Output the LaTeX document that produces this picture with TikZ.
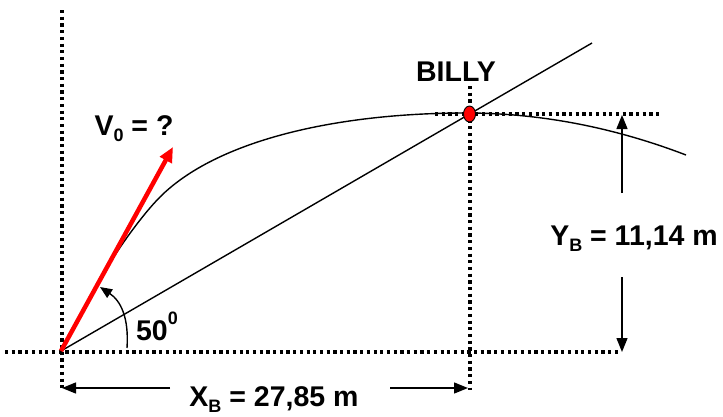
\documentclass[tikz,border=0pt]{standalone}
\usepackage{fontspec}
\setmainfont{Liberation Sans}
\usetikzlibrary{arrows.meta,shapes.geometric}
\newcommand{\lsub}[1]{\raisebox{-0.22em}{\fontsize{18}{18}\selectfont #1}}
\newcommand{\lsup}[1]{\raisebox{0.55em}{\fontsize{18}{18}\selectfont #1}}
\begin{document}
\begin{tikzpicture}[x=1pt,y=-1pt,
  dotline/.style={line width=3.2pt, dash pattern=on 3.2pt off 3.5pt},
  blk/.style={line width=1.4pt},
  dimarrow/.style={line width=1.4pt, -{Triangle[length=14pt,width=11pt]}},
  lbl/.style={font=\fontsize{28.5}{30}\selectfont\bfseries, inner sep=0pt, anchor=base}
]
\useasboundingbox (0,0) rectangle (723,416);
% key points
\coordinate (O) at (61,351);
\coordinate (B) at (469.5,114);
\coordinate (P) at (105,271.5);
\coordinate (M) at (160,197);
\coordinate (Apex) at (466,113);
\coordinate (Tend) at (686,155);
\coordinate (Ltop) at (62,10);
\coordinate (Lbot) at (62,388);
\coordinate (Hl) at (5,352);
\coordinate (Hr) at (620,352);
\coordinate (Btop) at (470,86);
\coordinate (Bbot) at (470,390);
\coordinate (Bl) at (435,114);
\coordinate (Br) at (660,114);
\coordinate (Lend) at (592,43);
\coordinate (Vtip) at (173,147);
% dotted guide lines
\draw[dotline] (Ltop) -- (Lbot);
\draw[dotline] (Hl) -- (Hr);
\draw[dotline] (Btop) -- (Bbot);
\draw[dotline] (Bl) -- (Br);
% straight line of sight
\draw[blk] (O) -- (Lend);
% trajectory
\draw[blk] (O) -- (P) .. controls (117,250) and (142.3,214.7) .. (M)
  .. controls (216.6,140.4) and (336,113) .. (Apex)
  .. controls (539,113) and (613,127) .. (Tend);
% red velocity arrow
\draw[red, line width=4.5pt, -{Triangle[length=15pt,width=13pt]}] (O) -- (Vtip);
% angle arc
\coordinate (Aa) at (127,348);
\coordinate (Ab) at (100,287);
\draw[blk, -{Triangle[length=12pt,width=10pt]}] (Aa) .. controls (129,318) and (121,301) .. (Ab);
% BILLY marker
\node[draw=black, line width=0.9pt, fill=red, ellipse, minimum width=12pt, minimum height=16pt, inner sep=0pt] (Bd) at (B) {};
% dimension arrows
\coordinate (Xl0) at (170,388);
\coordinate (Xl1) at (62,388);
\coordinate (Xr0) at (390,388);
\coordinate (Xr1) at (468,388);
\draw[dimarrow] (Xl0) -- (Xl1);
\draw[dimarrow] (Xr0) -- (Xr1);
\coordinate (Yd0) at (622,277);
\coordinate (Yd1) at (622,352);
\coordinate (Yu0) at (622,193);
\coordinate (Yu1) at (622,115);
\draw[dimarrow] (Yd0) -- (Yd1);
\draw[dimarrow] (Yu0) -- (Yu1);
% labels
\node[lbl] (billy) at (456,81) {BILLY};
\node[lbl] (v0) at (134,135) {V\lsub{0} = ?};
\node[lbl] (yb) at (634,245) {Y\lsub{B} = 11,14 m};
\node[lbl] (xb) at (274,406) {X\lsub{B} = 27,85 m};
\node[lbl] (ang) at (157,340) {50\lsup{0}};
\end{tikzpicture}
\end{document}
